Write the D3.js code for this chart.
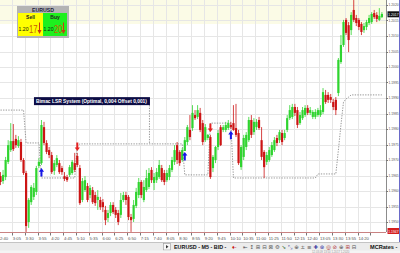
<!DOCTYPE html>
<html>
<head>
<meta charset="utf-8">
<script src="https://cdn.jsdelivr.net/npm/d3@7"></script>
<style>
html, body { margin: 0; padding: 0; background: #fff; }
svg { display: block; font-family: "Liberation Sans", Arial, sans-serif; }
</style>
</head>
<body>
<div id="chart"></div>
<script>
// EURUSD M5 bars
const opens = [
  1.19648, 1.19632, 1.19645, 1.19694, 1.19732, 1.19761, 1.19768, 1.19745, 1.19758, 1.19700,
  1.19658, 1.19500, 1.19564, 1.19581, 1.19597, 1.19681, 1.19690, 1.19806, 1.19755, 1.19732,
  1.19716, 1.19665, 1.19684, 1.19690, 1.19674, 1.19648, 1.19645, 1.19652, 1.19658, 1.19690,
  1.19713, 1.19674, 1.19571, 1.19603, 1.19616, 1.19587, 1.19603, 1.19587, 1.19571, 1.19571,
  1.19564, 1.19539, 1.19513, 1.19529, 1.19555, 1.19539, 1.19529, 1.19523, 1.19571, 1.19587,
  1.19581, 1.19516, 1.19510, 1.19552, 1.19587, 1.19629, 1.19571, 1.19603, 1.19613, 1.19668,
  1.19626, 1.19635, 1.19645, 1.19674, 1.19658, 1.19635, 1.19645, 1.19668, 1.19694, 1.19748,
  1.19726, 1.19700, 1.19729, 1.19758, 1.19797, 1.19803, 1.19845, 1.19839, 1.19852, 1.19819,
  1.19764, 1.19771, 1.19774, 1.19674, 1.19700, 1.19742, 1.19806, 1.19797, 1.19797, 1.19803,
  1.19813, 1.19819, 1.19803, 1.19787, 1.19677, 1.19710, 1.19742, 1.19764, 1.19829, 1.19790,
  1.19806, 1.19829, 1.19764, 1.19726, 1.19694, 1.19700, 1.19716, 1.19732, 1.19771, 1.19764,
  1.19787, 1.19771, 1.19797, 1.19835, 1.19839, 1.19871, 1.19861, 1.19819, 1.19835, 1.19845,
  1.19868, 1.19852, 1.19839, 1.19839, 1.19845, 1.19845, 1.19855, 1.19910, 1.19910, 1.19903,
  1.19887, 1.19894, 1.19916, 1.20016, 1.20071, 1.20152, 1.20135, 1.20119, 1.20184, 1.20158,
  1.20152, 1.20139, 1.20119, 1.20129, 1.20142, 1.20145, 1.20174, 1.20168, 1.20152, 1.20161
]
const highs = [
  1.19661, 1.19668, 1.19710, 1.19764, 1.19819, 1.19816, 1.19781, 1.19777, 1.19768, 1.19706,
  1.19665, 1.19577, 1.19619, 1.19626, 1.19681, 1.19706, 1.19829, 1.19823, 1.19764, 1.19742,
  1.19726, 1.19700, 1.19716, 1.19700, 1.19681, 1.19661, 1.19652, 1.19684, 1.19700, 1.19723,
  1.19723, 1.19684, 1.19642, 1.19648, 1.19626, 1.19619, 1.19613, 1.19597, 1.19603, 1.19581,
  1.19574, 1.19552, 1.19539, 1.19564, 1.19564, 1.19548, 1.19539, 1.19594, 1.19597, 1.19597,
  1.19587, 1.19526, 1.19571, 1.19610, 1.19642, 1.19635, 1.19635, 1.19668, 1.19674, 1.19677,
  1.19658, 1.19674, 1.19700, 1.19684, 1.19668, 1.19668, 1.19684, 1.19710, 1.19748, 1.19758,
  1.19732, 1.19739, 1.19774, 1.19813, 1.19845, 1.19877, 1.19861, 1.19877, 1.19868, 1.19829,
  1.19816, 1.19784, 1.19781, 1.19716, 1.19745, 1.19797, 1.19813, 1.19813, 1.19823, 1.19829,
  1.19823, 1.19877, 1.19881, 1.19797, 1.19748, 1.19781, 1.19790, 1.19839, 1.19845, 1.19835,
  1.19832, 1.19839, 1.19806, 1.19732, 1.19726, 1.19742, 1.19758, 1.19774, 1.19781, 1.19797,
  1.19797, 1.19797, 1.19845, 1.19877, 1.19881, 1.19881, 1.19871, 1.19855, 1.19871, 1.19877,
  1.19877, 1.19871, 1.19861, 1.19864, 1.19868, 1.19877, 1.19932, 1.19926, 1.19919, 1.19913,
  1.19897, 1.19903, 1.20029, 1.20103, 1.20152, 1.20158, 1.20145, 1.20177, 1.20216, 1.20168,
  1.20158, 1.20145, 1.20142, 1.20152, 1.20168, 1.20177, 1.20184, 1.20177, 1.20190, 1.20177
]
const lows = [
  1.19619, 1.19623, 1.19635, 1.19687, 1.19726, 1.19729, 1.19739, 1.19739, 1.19694, 1.19652,
  1.19468, 1.19481, 1.19555, 1.19571, 1.19587, 1.19674, 1.19684, 1.19748, 1.19719, 1.19706,
  1.19655, 1.19652, 1.19677, 1.19655, 1.19652, 1.19632, 1.19629, 1.19645, 1.19652, 1.19661,
  1.19677, 1.19555, 1.19564, 1.19597, 1.19564, 1.19577, 1.19558, 1.19552, 1.19539, 1.19539,
  1.19532, 1.19490, 1.19500, 1.19519, 1.19526, 1.19513, 1.19490, 1.19513, 1.19564, 1.19555,
  1.19506, 1.19468, 1.19500, 1.19545, 1.19577, 1.19577, 1.19564, 1.19597, 1.19606, 1.19626,
  1.19603, 1.19626, 1.19639, 1.19629, 1.19619, 1.19629, 1.19635, 1.19661, 1.19684, 1.19687,
  1.19681, 1.19694, 1.19729, 1.19748, 1.19764, 1.19794, 1.19829, 1.19832, 1.19790, 1.19748,
  1.19758, 1.19764, 1.19639, 1.19661, 1.19690, 1.19732, 1.19745, 1.19790, 1.19790, 1.19797,
  1.19800, 1.19794, 1.19774, 1.19684, 1.19668, 1.19700, 1.19732, 1.19758, 1.19771, 1.19781,
  1.19797, 1.19797, 1.19700, 1.19642, 1.19684, 1.19694, 1.19710, 1.19726, 1.19745, 1.19755,
  1.19748, 1.19764, 1.19790, 1.19829, 1.19832, 1.19842, 1.19803, 1.19813, 1.19829, 1.19839,
  1.19845, 1.19845, 1.19832, 1.19832, 1.19839, 1.19839, 1.19848, 1.19881, 1.19884, 1.19884,
  1.19861, 1.19845, 1.19906, 1.20010, 1.20065, 1.20103, 1.20048, 1.20103, 1.20145, 1.20132,
  1.20119, 1.20103, 1.20110, 1.20119, 1.20135, 1.20139, 1.20155, 1.20145, 1.20148, 1.20158
]
const closes = [
  1.19629, 1.19652, 1.19700, 1.19748, 1.19761, 1.19735, 1.19748, 1.19764, 1.19700, 1.19658,
  1.19487, 1.19571, 1.19613, 1.19610, 1.19674, 1.19694, 1.19813, 1.19755, 1.19726, 1.19716,
  1.19661, 1.19690, 1.19706, 1.19661, 1.19661, 1.19639, 1.19635, 1.19677, 1.19694, 1.19668,
  1.19684, 1.19561, 1.19632, 1.19635, 1.19571, 1.19610, 1.19564, 1.19561, 1.19581, 1.19548,
  1.19548, 1.19506, 1.19529, 1.19555, 1.19532, 1.19523, 1.19500, 1.19571, 1.19587, 1.19571,
  1.19516, 1.19506, 1.19555, 1.19597, 1.19629, 1.19587, 1.19613, 1.19642, 1.19658, 1.19635,
  1.19645, 1.19661, 1.19684, 1.19635, 1.19629, 1.19658, 1.19674, 1.19700, 1.19732, 1.19700,
  1.19690, 1.19732, 1.19764, 1.19806, 1.19774, 1.19852, 1.19835, 1.19861, 1.19797, 1.19758,
  1.19806, 1.19781, 1.19645, 1.19710, 1.19742, 1.19787, 1.19748, 1.19806, 1.19813, 1.19819,
  1.19806, 1.19797, 1.19781, 1.19690, 1.19742, 1.19771, 1.19781, 1.19829, 1.19781, 1.19823,
  1.19823, 1.19803, 1.19710, 1.19677, 1.19716, 1.19732, 1.19748, 1.19764, 1.19755, 1.19790,
  1.19758, 1.19787, 1.19835, 1.19861, 1.19871, 1.19852, 1.19813, 1.19845, 1.19861, 1.19868,
  1.19852, 1.19861, 1.19855, 1.19855, 1.19861, 1.19861, 1.19919, 1.19887, 1.19894, 1.19894,
  1.19871, 1.19861, 1.20023, 1.20071, 1.20145, 1.20110, 1.20087, 1.20168, 1.20152, 1.20142,
  1.20129, 1.20113, 1.20132, 1.20145, 1.20158, 1.20171, 1.20161, 1.20155, 1.20165, 1.20171
]

// strategy stop line: level holds from the given bar onwards
const stopFrom = [0, 10, 16, 30, 31, 72, 82, 91, 124, 132, 133, 134, 135, 136, 137]
const stopLevel = [1.19861, 1.19755, 1.19642, 1.19745, 1.19752, 1.19652, 1.19819, 1.19642,
  1.19655, 1.19732, 1.19813, 1.19887, 1.19897, 1.19903, 1.19910]

// entry signals
const signalBar = [16, 30, 72, 82, 90]
const signalSide = ['buy', 'sell', 'buy', 'sell', 'buy']
const signalPrice = [1.19674, 1.19729, 1.19726, 1.19790, 1.19794]

const priceTicks = [1.2020, 1.2015, 1.2010, 1.2005, 1.2000, 1.1995, 1.1990, 1.1985,
  1.1980, 1.1975, 1.1970, 1.1965, 1.1960, 1.1955, 1.1950]
const timeLabels = ['2:40', '3:05', '3:30', '3:55', '4:20', '4:45', '5:10', '5:35', '6:00', '6:25',
  '6:50', '7:15', '7:40', '8:05', '8:30', '8:55', '9:20', '9:45', '10:10', '10:35',
  '11:00', '11:25', '11:50', '12:15', '12:40', '13:05', '13:30', '13:55', '14:20']
const barsPerLabel = 5

const symbol = 'EURUSD'
const sellQuote = ['1.20', '17']
const buyQuote = ['1.20', '20']
const lastPrice = 1.2017
const lowMarker = '1.1947'
const strategyName = 'Bimac LSR System (Optimal, 0,004 Offset 0,001)'
const labelBar = 58
const labelPrice = 1.19877

const W = 400, H = 253
const plotR = 386, plotB = 232

const svg = d3.select('#chart').append('svg')
  .attr('width', W).attr('height', H)

let x = d3.scaleLinear().domain([0, opens.length - 1]).range([0.5, 381.9])
let y = d3.scaleLinear().domain([1.1950, 1.2020]).range([222, 5])

svg.append('clipPath').attr('id', 'plot')
  .append('rect').attr('width', plotR).attr('height', plotB)

// pale band at the top of the plot
svg.append('rect')
  .attr('x', 0).attr('y', 0).attr('width', plotR).attr('height', 24)
  .attr('fill', '#fbfbe6')

// grid
let grid = svg.append('g').attr('stroke', '#e6e6e6').attr('stroke-width', 1)
grid.selectAll('.h').data(priceTicks).join('line')
  .attr('x1', 0).attr('x2', plotR)
  .attr('y1', d => Math.round(y(d)) + 0.5).attr('y2', d => Math.round(y(d)) + 0.5)
let tickX = (d, i) => x(i * barsPerLabel) - 1.28
grid.selectAll('.v').data(d3.range(timeLabels.length + 1)).join('line')
  .attr('x1', (d, i) => Math.round(tickX(d, i)) + 0.5)
  .attr('x2', (d, i) => Math.round(tickX(d, i)) + 0.5)
  .attr('y1', 0).attr('y2', plotB)

let plot = svg.append('g').attr('clip-path', 'url(#plot)')

// stop line (dotted)
let stopSeries = opens.map((_, i) => {
  let v
  stopFrom.forEach((f, k) => { if (i >= f) v = stopLevel[k] })
  return v
})
plot.append('path')
  .datum(stopSeries)
  .attr('d', d3.line().x((d, i) => x(i)).y(d => y(d)))
  .attr('fill', 'none')
  .attr('stroke', '#8a8a8a')
  .attr('stroke-width', 0.9)
  .attr('stroke-dasharray', '1.3,1.3')

// candles
let bars = d3.range(opens.length)
let col = i => closes[i] >= opens[i] ? '#2fd42f' : '#cc1414'
plot.append('g').selectAll('line').data(bars).join('line')
  .attr('x1', i => x(i)).attr('x2', i => x(i))
  .attr('y1', i => y(highs[i])).attr('y2', i => y(lows[i]))
  .attr('stroke', i => col(i))
  .attr('stroke-width', 0.8)
plot.append('g').selectAll('rect').data(bars).join('rect')
  .attr('x', i => x(i) - 1.1)
  .attr('width', 2.2)
  .attr('y', i => y(Math.max(opens[i], closes[i])))
  .attr('height', i => Math.max(0.8, Math.abs(y(opens[i]) - y(closes[i]))))
  .attr('fill', i => col(i))

// signal arrows
let arrow = (cx, ty, dir) => {
  let s = dir === 'buy' ? 1 : -1
  return `M${cx},${ty} L${cx + 2.6},${ty + s * 3.6} L${cx + 1},${ty + s * 3.6} L${cx + 1},${ty + s * 8.5}` +
    ` L${cx - 1},${ty + s * 8.5} L${cx - 1},${ty + s * 3.6} L${cx - 2.6},${ty + s * 3.6} Z`
}
plot.append('g').selectAll('path').data(signalBar).join('path')
  .attr('d', (b, k) => arrow(x(b), y(signalPrice[k]), signalSide[k]))
  .attr('fill', (b, k) => signalSide[k] === 'buy' ? '#1616e8' : '#e42222')

// strategy label with leader line
let lx = x(labelBar)
svg.append('line')
  .attr('x1', lx + 0.5).attr('x2', lx + 0.5)
  .attr('y1', y(labelPrice)).attr('y2', y(stopSeries[labelBar]))
  .attr('stroke', '#8a8a8a').attr('stroke-width', 0.9).attr('stroke-dasharray', '1.3,1.3')
svg.append('rect')
  .attr('x', lx - 115).attr('y', y(labelPrice) - 8)
  .attr('width', 116).attr('height', 8)
  .attr('fill', '#0d0d45')
svg.append('text')
  .attr('x', lx - 113).attr('y', y(labelPrice) - 2.2)
  .attr('font-size', 5.2).attr('font-weight', 'bold')
  .attr('fill', '#fff')
  .attr('textLength', 111).attr('lengthAdjust', 'spacingAndGlyphs')
  .text(strategyName)

// price axis
svg.append('rect').attr('x', plotR).attr('y', 0).attr('width', W - plotR).attr('height', plotB)
  .attr('fill', '#fff')
svg.append('line').attr('x1', plotR + 0.5).attr('x2', plotR + 0.5).attr('y1', 0).attr('y2', plotB)
  .attr('stroke', '#8c8c8c')
let pAxis = svg.append('g')
pAxis.selectAll('line').data(priceTicks).join('line')
  .attr('x1', plotR).attr('x2', plotR + 2)
  .attr('y1', d => Math.round(y(d)) + 0.5).attr('y2', d => Math.round(y(d)) + 0.5)
  .attr('stroke', '#777')
pAxis.selectAll('text').data(priceTicks).join('text')
  .attr('x', plotR + 2.4).attr('y', d => y(d) + 1.4)
  .attr('font-size', 3.9).attr('fill', '#555')
  .attr('textLength', 10.2).attr('lengthAdjust', 'spacingAndGlyphs')
  .text(d => d3.format('.4f')(d))
svg.append('rect')
  .attr('x', plotR + 1.5).attr('y', y(lastPrice) - 3).attr('width', 12).attr('height', 6)
  .attr('fill', '#111')
svg.append('text')
  .attr('x', plotR + 2.3).attr('y', y(lastPrice) + 1.5)
  .attr('font-size', 4.2).attr('fill', '#fff')
  .attr('textLength', 10.2).attr('lengthAdjust', 'spacingAndGlyphs')
  .text(d3.format('.4f')(lastPrice))
svg.append('rect')
  .attr('x', plotR + 1.5).attr('y', plotB - 4).attr('width', 12).attr('height', 6)
  .attr('fill', '#d41e1e')
svg.append('text')
  .attr('x', plotR + 2.3).attr('y', plotB + 0.5)
  .attr('font-size', 4.2).attr('fill', '#fff')
  .attr('textLength', 10.2).attr('lengthAdjust', 'spacingAndGlyphs')
  .text(lowMarker)
svg.append('line').attr('x1', W - 0.5).attr('x2', W - 0.5).attr('y1', 0).attr('y2', 242)
  .attr('stroke', '#6a6ac8')

// time axis
svg.append('line').attr('x1', 0).attr('x2', plotR).attr('y1', plotB + 0.5).attr('y2', plotB + 0.5)
  .attr('stroke', '#c98282')
let tAxis = svg.append('g')
tAxis.selectAll('line').data(d3.range(timeLabels.length + 1)).join('line')
  .attr('x1', (d, i) => Math.round(tickX(d, i)) + 0.5)
  .attr('x2', (d, i) => Math.round(tickX(d, i)) + 0.5)
  .attr('y1', plotB + 1).attr('y2', plotB + 3.5)
  .attr('stroke', '#777')
tAxis.selectAll('text').data(timeLabels).join('text')
  .attr('x', (d, i) => tickX(d, i) + 0.8)
  .attr('y', plotB + 8)
  .attr('font-size', 4.2).attr('fill', '#555')
  .text(d => d)

// quote widget (top left)
let wq = svg.append('g').attr('transform', 'translate(17,6)')
wq.append('rect').attr('width', 52).attr('height', 32).attr('fill', '#b4b4b4')
wq.append('text').attr('x', 26).attr('y', 5.6).attr('text-anchor', 'middle')
  .attr('font-size', 5.2).attr('font-weight', 'bold').attr('fill', '#1c1c3c').text(symbol)
let quoteBox = (gx, w, fill, title, q) => {
  let g = wq.append('g').attr('transform', `translate(${gx},7)`)
  g.append('rect').attr('width', w).attr('height', 23).attr('fill', fill)
  g.append('text').attr('x', w / 2).attr('y', 5.5).attr('text-anchor', 'middle')
    .attr('font-size', 5).attr('font-weight', 'bold').attr('fill', '#222').text(title)
  g.append('text').attr('x', 0.6).attr('y', 18.2)
    .attr('font-size', 5.8).attr('fill', '#111')
    .attr('textLength', 10).attr('lengthAdjust', 'spacingAndGlyphs').text(q[0])
  g.append('text').attr('x', 11).attr('y', 19.6)
    .attr('font-size', 10.5).attr('fill', '#c85c08')
    .attr('textLength', 8.5).attr('lengthAdjust', 'spacingAndGlyphs').text(q[1])
  g.append('line').attr('x1', w - 3.5).attr('x2', w - 3.5).attr('y1', 9.5).attr('y2', 19)
    .attr('stroke', '#c83a10').attr('stroke-width', 1)
  g.append('path').attr('d', `M${w - 5.5},17 L${w - 1.5},17 L${w - 3.5},21 Z`).attr('fill', '#c83a10')
}
quoteBox(1, 25, '#ffff00', 'Sell', sellQuote)
quoteBox(26, 24, '#1ef01e', 'Buy', buyQuote)

// bottom toolbar
let tb = svg.append('g')
tb.append('rect').attr('x', 0).attr('y', 242).attr('width', W).attr('height', 11).attr('fill', '#ececec')
tb.append('line').attr('x1', 0).attr('x2', W).attr('y1', 242.5).attr('y2', 242.5).attr('stroke', '#c4c4c4')
tb.append('rect').attr('x', 163.5).attr('y', 243.5).attr('width', 7).attr('height', 6.5)
  .attr('fill', '#f8f8f8').attr('stroke', '#9a9a9a').attr('stroke-width', 0.6)
tb.append('path').attr('d', 'M166,245 L168.5,246.8 L166,248.6 Z').attr('fill', '#333')
tb.append('text').attr('x', 174).attr('y', 248.6).attr('font-size', 5.4).attr('font-weight', 'bold')
  .attr('fill', '#111').text('EURUSD - M5 - BID -')
tb.append('text').attr('x', 232).attr('y', 248.6).attr('font-size', 5.4)
  .attr('fill', '#c82020').text('♦-')
const toolIcons = ['⇤', '↕', '⊞', '⊟', '⊠', '⚙', '↘', '⤡', '⊕', '±', '≡', '✚', '⊛', '◎', '⊘', '⊕', '⊞', '⊟']
const toolColors = ['#555', '#555', '#555', '#555', '#555', '#666', '#3a6a3a', '#3a3aa0', '#555', '#555',
  '#555', '#3a3aa0', '#2a2aa0', '#b03030', '#b03030', '#555', '#b04040', '#555']
tb.append('g').selectAll('text').data(toolIcons).join('text')
  .attr('x', (d, i) => 243 + i * 6.4).attr('y', 248.8)
  .attr('font-size', 5.4).attr('font-family', 'DejaVu Sans')
  .attr('fill', (d, i) => toolColors[i]).text(d => d)
tb.append('text').attr('x', 370).attr('y', 248.6).attr('font-size', 5.6).attr('font-weight', 'bold')
  .attr('fill', '#111').text('MCRates -')
tb.append('rect').attr('x', 0).attr('y', 250.5).attr('width', W).attr('height', 2.5).attr('fill', '#f4f4f4')
tb.append('text').attr('x', 312).attr('y', 252.9).attr('font-size', 2.8).attr('fill', '#999')
  .text('12.03.09 13:50  1.2017  1.2020')
</script>
</body>
</html>
